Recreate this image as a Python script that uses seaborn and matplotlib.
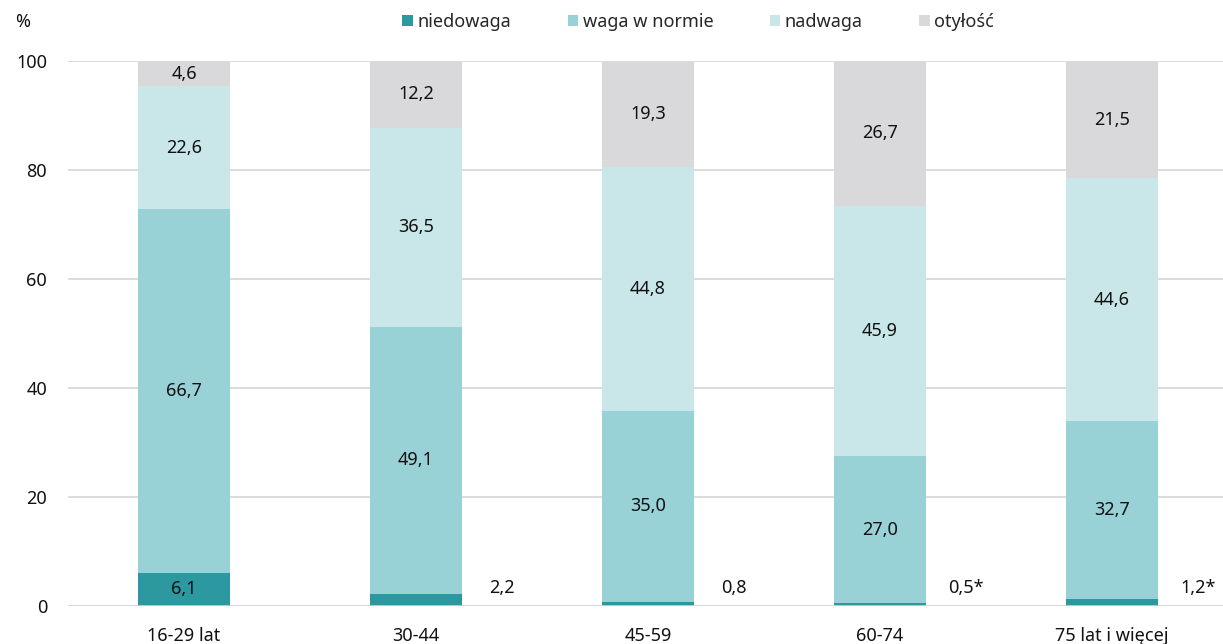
import numpy as np
import pandas as pd
import matplotlib
matplotlib.use("Agg")
import matplotlib.pyplot as plt
import seaborn as sns
from matplotlib.patches import Patch

# Age groups and BMI category shares (%)
groups = ["16-29 lat", "30-44", "45-59", "60-74", "75 lat i więcej"]
niedowaga = [6.1, 2.2, 0.8, 0.5, 1.2]
waga_w_normie = [66.7, 49.1, 35.0, 27.0, 32.7]
nadwaga = [22.6, 36.5, 44.8, 45.9, 44.6]
otylosc = [4.6, 12.2, 19.3, 26.7, 21.5]

series_names = ["niedowaga", "waga w normie", "nadwaga", "otyłość"]
series_values = [niedowaga, waga_w_normie, nadwaga, otylosc]
small_label_suffix = ["", "", "", "*", "*"]

colors = ["#2b999f", "#99d2d6", "#c9e7e8", "#d9d9db"]
text_color = "#111111"
fs = 13

sns.set_theme(style="white")
plt.rcParams["font.family"] = ["Noto Sans", "DejaVu Sans"]

fig = plt.figure(figsize=(12.23, 6.44), dpi=100)
ax = fig.add_axes([0.0556, 0.059, 0.9485, 0.846])

# stacked bars: draw cumulative totals from the top layer downwards
vals = np.array(series_values)
cum = np.cumsum(vals, axis=0)
for i in range(len(series_names) - 1, -1, -1):
    df = pd.DataFrame({"grupa": groups, "wartosc": cum[i]})
    sns.barplot(data=df, x="grupa", y="wartosc", color=colors[i], width=0.4,
                saturation=1, ax=ax, zorder=3, linewidth=0)

ax.set_ylim(0, 100)
ax.set_xlim(-0.5, 4.5)
ax.set_yticks([0, 20, 40, 60, 80, 100])
ax.yaxis.grid(True, color="#d9d9d9", linewidth=1.3, zorder=0)
ax.axhline(0, color="#d9d9d9", linewidth=1.8, zorder=4)
for s in ax.spines.values():
    s.set_visible(False)
ax.tick_params(axis="both", length=0, labelsize=fs, colors=text_color)
ax.tick_params(axis="y", pad=15)
ax.tick_params(axis="x", pad=15)
ax.set_xlabel("")
ax.set_ylabel("")

def fmt(v):
    return f"{v:.1f}".replace(".", ",")

# value labels
for j in range(len(groups)):
    bottom = 0.0
    for i in range(len(series_names)):
        v = vals[i, j]
        if i == 0 and j > 0:
            ax.text(j + 0.37, 3.3, fmt(v) + small_label_suffix[j], ha="center",
                    va="center", fontsize=fs, color=text_color, zorder=5)
        else:
            ax.text(j, bottom + v / 2, fmt(v), ha="center", va="center",
                    fontsize=fs, color=text_color, zorder=5)
        bottom += v

handles = [Patch(facecolor=c, edgecolor="none") for c in colors]
fig.legend(handles, series_names, loc="center", bbox_to_anchor=(0.571, 0.966),
           ncol=4, frameon=False, fontsize=fs, handlelength=0.6, handleheight=0.6,
           handletextpad=0.25, columnspacing=3.1)

fig.text(0.012, 0.966, "%", fontsize=fs, ha="left", va="center", color=text_color)

fig.savefig("out.png", dpi=100)
